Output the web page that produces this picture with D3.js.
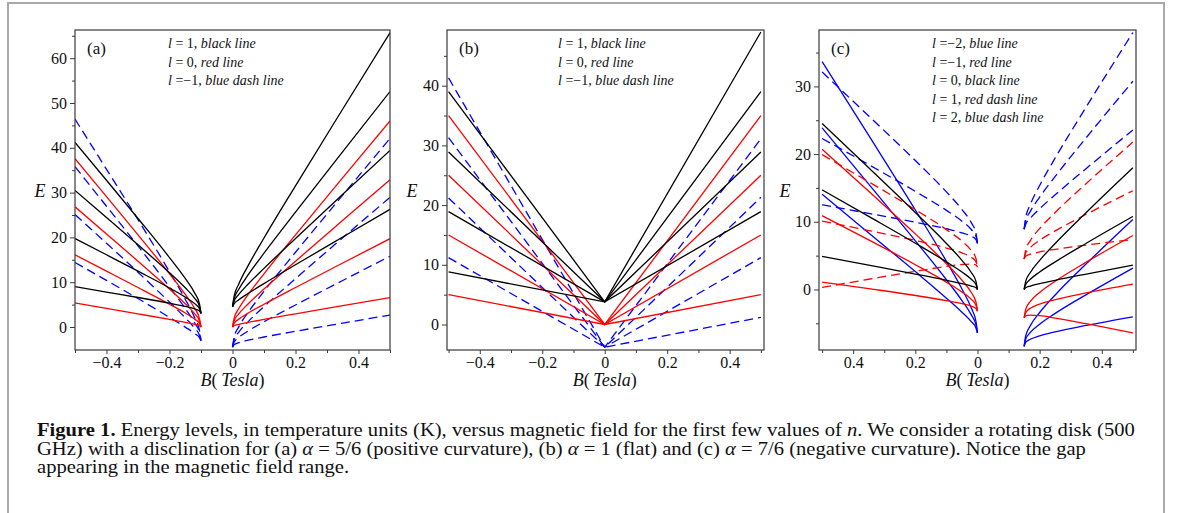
<!DOCTYPE html>
<html>
<head>
<meta charset="utf-8">
<script src="https://cdnjs.cloudflare.com/ajax/libs/d3/7.8.5/d3.min.js"></script>
<style>
  body { margin: 0; background: #fff; }
  svg { display: block; }
  svg text { font-family: "Liberation Serif", "Times New Roman", serif; }
</style>
</head>
<body>
<svg id="fig" width="1181" height="513"></svg>
<script>
// ---- panel (a): alpha = 5/6, gap between B = -0.1 and 0 ----
var aBRight = [0, 0.005, 0.02, 0.05, 0.1, 0.2, 0.35, 0.5];
var aBLeft = [-0.1, -0.105, -0.12, -0.15, -0.2, -0.3, -0.4, -0.5];
var aBlackR = [
  [4.5, 5.17, 6.08, 7.52, 9.69, 13.89, 20.09, 26.26],
  [4.5, 5.72, 7.26, 9.59, 13.09, 19.76, 29.61, 39.4],
  [4.5, 6.27, 8.44, 11.67, 16.48, 25.64, 39.14, 52.55],
  [4.5, 6.82, 9.61, 13.75, 19.87, 31.52, 48.66, 65.69]
];
var aBlackL = [
  [3.04, 3.57, 4.04, 4.6, 5.31, 6.59, 7.8, 9.01],
  [3.04, 4.12, 5.22, 6.67, 8.71, 12.46, 16.12, 19.74],
  [3.04, 4.67, 6.4, 8.75, 12.1, 18.34, 24.43, 30.47],
  [3.04, 5.22, 7.57, 10.83, 15.49, 24.22, 32.75, 41.2]
];
var aRedR = [
  [0, 0.27, 0.59, 1.04, 1.7, 2.94, 4.76, 6.57],
  [0, 0.82, 1.76, 3.12, 5.09, 8.82, 14.29, 19.72],
  [0, 1.37, 2.94, 5.2, 8.48, 14.69, 23.81, 32.86],
  [0, 1.92, 4.12, 7.27, 11.88, 20.57, 33.34, 46.01]
];
var aRedL = [
  [0, 0.27, 0.59, 1.04, 1.7, 2.94, 4.16, 5.37],
  [0, 0.82, 1.76, 3.12, 5.09, 8.82, 12.47, 16.1],
  [0, 1.37, 2.94, 5.2, 8.48, 14.69, 20.78, 26.83],
  [0, 1.92, 4.12, 7.27, 11.88, 20.57, 29.1, 37.56]
];
var aBlueR = [
  [-4.5, -3.97, -3.5, -2.94, -2.23, -0.95, 0.87, 2.66],
  [-4.5, -3.42, -2.32, -0.87, 1.17, 4.92, 10.39, 15.8],
  [-4.5, -2.87, -1.14, 1.21, 4.56, 10.8, 19.92, 28.95],
  [-4.5, -2.32, 0.03, 3.29, 7.95, 16.68, 29.44, 42.09]
];
var aBlueL = [
  [-3.04, -2.37, -1.46, -0.02, 2.15, 6.35, 10.4, 14.4],
  [-3.04, -1.82, -0.28, 2.05, 5.55, 12.22, 18.7, 25.1],
  [-3.04, -1.27, 0.9, 4.13, 8.94, 18.1, 26.95, 35.8],
  [-3.04, -0.72, 2.07, 6.21, 12.33, 23.98, 35.2, 46.4]
];

// ---- panel (b): alpha = 1, no gap ----
var bB = [-0.5, 0, 0.5];
var bBlack = [[8.8, 3.8, 18.9], [18.9, 3.8, 28.9], [28.9, 3.8, 39.0], [39.0, 3.8, 49.0]];
var bRed = [[5, 0, 5], [15, 0, 15], [25, 0, 25], [35, 0, 35]];
var bBlue = [[11.2, -3.8, 1.2], [21.2, -3.8, 11.2], [31.3, -3.8, 21.3], [41.3, -3.8, 31.1]];

// ---- panel (c): alpha = 7/6, gap between B = 0 and 0.15 ----
var cBRight = [0.15, 0.155, 0.17, 0.2, 0.25, 0.35, 0.5];
var cBLeft = [0, -0.005, -0.02, -0.05, -0.1, -0.2, -0.35, -0.5];
var cBlackR = [
  [0, 0.24, 0.5, 0.86, 1.36, 2.28, 3.6],
  [0, 0.72, 1.5, 2.58, 4.08, 6.83, 10.79],
  [0, 1.2, 2.51, 4.3, 6.8, 11.38, 17.99]
];
var cBlackL = [
  [0, 0.24, 0.5, 0.86, 1.36, 2.28, 3.6, 4.9],
  [0, 0.72, 1.5, 2.58, 4.08, 6.83, 10.79, 14.71],
  [0, 1.2, 2.51, 4.3, 6.8, 11.38, 17.99, 24.51]
];
var cRedR = [
  [-4.2, -3.89, -3.78, -3.87, -4.22, -5.06, -6.42],
  [-4.2, -3.41, -2.78, -2.15, -1.5, -0.51, 0.78],
  [-4.2, -2.93, -1.77, -0.43, 1.22, 4.04, 7.97]
];
var cRedL = [
  [-3.2, -2.81, -2.46, -2.08, -1.64, -0.89, 0.12, 1.1],
  [-3.2, -2.33, -1.46, -0.36, 1.08, 3.66, 7.32, 10.91],
  [-3.2, -1.85, -0.45, 1.36, 3.8, 8.21, 14.51, 20.72]
];
var cRedDashR = [
  [4.5, 4.89, 5.21, 5.56, 5.93, 6.56, 7.38],
  [4.5, 5.37, 6.21, 7.28, 8.65, 11.11, 14.58],
  [4.5, 5.85, 7.22, 9.0, 11.37, 15.66, 21.77]
];
var cRedDashL = [
  [3.3, 3.62, 3.75, 3.69, 3.4, 2.69, 1.51, 0.3],
  [3.3, 4.1, 4.75, 5.41, 6.12, 7.24, 8.71, 10.11],
  [3.3, 4.58, 5.76, 7.13, 8.84, 11.79, 15.9, 19.92]
];
var cBlueR = [
  [-8.4, -7.83, -7.35, -6.84, -6.25, -5.31, -4.04],
  [-8.4, -7.35, -6.35, -5.12, -3.53, -0.76, 3.16],
  [-8.4, -6.87, -5.34, -3.4, -0.81, 3.79, 10.35]
];
var cBlueL = [
  [-6.4, -5.68, -4.75, -3.36, -1.28, 2.64, 8.36, 14.06],
  [-6.4, -5.2, -3.75, -1.64, 1.44, 7.19, 15.56, 23.86],
  [-6.4, -4.72, -2.74, 0.08, 4.16, 11.74, 22.75, 33.67]
];
var cBlueDashR = [
  [8.9, 9.62, 10.54, 11.93, 13.99, 17.88, 23.56],
  [8.9, 10.1, 11.54, 13.65, 16.71, 22.43, 30.76],
  [8.9, 10.58, 12.55, 15.37, 19.43, 26.98, 37.95]
];
var cBlueDashL = [
  [6.8, 7.37, 7.86, 8.37, 8.97, 9.94, 11.24, 12.51],
  [6.8, 7.85, 8.86, 10.09, 11.69, 14.49, 18.44, 22.31],
  [6.8, 8.33, 9.87, 11.81, 14.41, 19.04, 25.63, 32.12]
];

// ticks and legends
var xMajor = [-0.4, -0.2, 0, 0.2, 0.4];
var xMinor = [-0.5, -0.3, -0.1, 0.1, 0.3, 0.5];
var aYMajor = [0, 10, 20, 30, 40, 50, 60];
var aYMinor = [5, 15, 25, 35, 45, 55, 65];
var bYMajor = [0, 10, 20, 30, 40];
var bYMinor = [5, 15, 25, 35, 45];
var cYMajor = [0, 10, 20, 30];
var cYMinor = [-5, 5, 15, 25, 35];
var abLegend = [["1", "black line"], ["0", "red line"], ["\u22121", "blue dash line"]];
var cLegend = [["\u22122", "blue line"], ["\u22121", "red line"], ["0", "black line"], ["1", "red dash line"], ["2", "blue dash line"]];

var RED = "#ff0000", BLUE = "#0000ff", BLACK = "#000000";
var SERIF = "'Liberation Serif', 'Times New Roman', serif";

var svg = d3.select("#fig");

// outer box
svg.append("rect")
  .attr("x", 8).attr("y", 3).attr("width", 1156).attr("height", 540)
  .attr("fill", "none").attr("stroke", "#a9a9a9").attr("stroke-width", 2);

function signed(d) {
  return d < 0 ? "\u2212" + Math.abs(d) : String(d);
}

var panels = [
  {
    name: "(a)", left: 75, right: 390, top: 30, bottom: 350,
    xDom: [-0.5, 0.5], yDom: [-5.13, 66.29],
    yMajor: aYMajor, yMinor: aYMinor, fmt: signed,
    eX: 40, legX: 168, legend: abLegend,
    groups: [
      { B: aBLeft, curves: aBlueL, color: BLUE, dash: true },
      { B: aBRight, curves: aBlueR, color: BLUE, dash: true },
      { B: aBLeft, curves: aRedL, color: RED },
      { B: aBRight, curves: aRedR, color: RED },
      { B: aBLeft, curves: aBlackL, color: BLACK },
      { B: aBRight, curves: aBlackR, color: BLACK }
    ]
  },
  {
    name: "(b)", left: 447, right: 764, top: 30, bottom: 350,
    xDom: [-0.505, 0.51], yDom: [-4.27, 49.33],
    yMajor: bYMajor, yMinor: bYMinor, fmt: signed,
    eX: 412, legX: 558, legend: abLegend, straight: true,
    groups: [
      { B: bB, curves: bBlue, color: BLUE, dash: true },
      { B: bB, curves: bRed, color: RED },
      { B: bB, curves: bBlack, color: BLACK }
    ]
  },
  {
    name: "(c)", left: 819, right: 1136, top: 30, bottom: 350,
    xDom: [-0.51, 0.51], yDom: [-8.94, 38.33],
    yMajor: cYMajor, yMinor: cYMinor, fmt: function (d) { return String(Math.abs(d)); },
    eX: 785, legX: 932, legend: cLegend,
    groups: [
      { B: cBLeft, curves: cBlueL, color: BLUE },
      { B: cBRight, curves: cBlueR, color: BLUE },
      { B: cBLeft, curves: cBlueDashL, color: BLUE, dash: true },
      { B: cBRight, curves: cBlueDashR, color: BLUE, dash: true },
      { B: cBLeft, curves: cRedL, color: RED },
      { B: cBRight, curves: cRedR, color: RED },
      { B: cBLeft, curves: cRedDashL, color: RED, dash: true },
      { B: cBRight, curves: cRedDashR, color: RED, dash: true },
      { B: cBLeft, curves: cBlackL, color: BLACK },
      { B: cBRight, curves: cBlackR, color: BLACK }
    ]
  }
];

panels.forEach(function (p, pi) {
  var x = d3.scaleLinear().domain(p.xDom).range([p.left, p.right]);
  var y = d3.scaleLinear().domain(p.yDom).range([p.bottom, p.top]);
  var g = svg.append("g");

  g.append("clipPath").attr("id", "clip" + pi)
    .append("rect")
    .attr("x", p.left).attr("y", p.top)
    .attr("width", p.right - p.left).attr("height", p.bottom - p.top);

  var line = d3.line()
    .x(function (d) { return x(d[0]); })
    .y(function (d) { return y(d[1]); })
    .curve(p.straight ? d3.curveLinear : d3.curveMonotoneX);

  var plot = g.append("g").attr("clip-path", "url(#clip" + pi + ")");
  p.groups.forEach(function (grp) {
    grp.curves.forEach(function (vals) {
      var pts = vals.map(function (e, i) { return [grp.B[i], e]; });
      pts.sort(function (m, n) { return m[0] - n[0]; });
      plot.append("path")
        .attr("d", line(pts))
        .attr("fill", "none")
        .attr("stroke", grp.color)
        .attr("stroke-width", 1.3)
        .attr("stroke-dasharray", grp.dash ? "9,5" : null);
    });
  });

  // frame
  g.append("rect")
    .attr("x", p.left).attr("y", p.top)
    .attr("width", p.right - p.left).attr("height", p.bottom - p.top)
    .attr("fill", "none").attr("stroke", "#3a3a3a").attr("stroke-width", 1.2);

  // x axis
  var xa = g.append("g").attr("transform", "translate(0," + p.bottom + ")")
    .call(d3.axisBottom(x).tickValues(xMajor).tickSize(4).tickPadding(3).tickFormat(p.fmt));
  var xm = g.append("g").attr("transform", "translate(0," + p.bottom + ")")
    .call(d3.axisBottom(x).tickValues(xMinor).tickSize(3).tickFormat(""));

  // y axis
  var ya = g.append("g").attr("transform", "translate(" + p.left + ",0)")
    .call(d3.axisLeft(y).tickValues(p.yMajor).tickSize(5).tickPadding(3).tickFormat(d3.format("d")));
  var ym = g.append("g").attr("transform", "translate(" + p.left + ",0)")
    .call(d3.axisLeft(y).tickValues(p.yMinor).tickSize(3).tickFormat(""));

  [xa, xm, ya, ym].forEach(function (ax) {
    ax.attr("font-family", SERIF).attr("font-size", 16);
    ax.select(".domain").remove();
    ax.selectAll(".tick line").attr("stroke", "#3a3a3a").attr("stroke-width", 1);
    ax.selectAll(".tick text").attr("fill", "#111").style("font-family", SERIF);
  });

  // axis titles
  var bl = g.append("text")
    .attr("x", x(0)).attr("y", 386)
    .attr("text-anchor", "middle").attr("font-size", 18).attr("fill", "#111");
  bl.append("tspan").attr("font-style", "italic").text("B");
  bl.append("tspan").text("(\u2009");
  bl.append("tspan").attr("font-style", "italic").text("Tesla");
  bl.append("tspan").text(")");

  g.append("text")
    .attr("x", p.eX).attr("y", 197)
    .attr("text-anchor", "middle").attr("font-size", 18)
    .attr("font-style", "italic").attr("fill", "#111")
    .text("E");

  g.append("text")
    .attr("x", p.left + 12).attr("y", 54)
    .attr("font-size", 17).attr("fill", "#111")
    .text(p.name);

  // legend text
  p.legend.forEach(function (item, i) {
    var t = g.append("text")
      .attr("x", p.legX).attr("y", 48 + i * 18.5)
      .attr("font-size", 14).attr("fill", "#111");
    t.append("tspan").attr("font-style", "italic").text("l");
    t.append("tspan").text(item[0].charAt(0) === "\u2212" ? " =" + item[0] + ", " : " = " + item[0] + ", ");
    t.append("tspan").attr("font-style", "italic").text(item[1]);
  });
});

// caption
var capLines = [
  [["Figure 1.", "b"], [" Energy levels, in temperature units (K), versus magnetic field for the first few values of "], ["n", "i"], [". We consider a rotating disk (500"]],
  [["GHz) with a disclination for (a) "], ["\u03b1", "i"], [" = 5/6 (positive curvature), (b) "], ["\u03b1", "i"], [" = 1 (flat) and (c) "], ["\u03b1", "i"], [" = 7/6 (negative curvature). Notice the gap"]],
  [["appearing in the magnetic field range."]]
];
var capNodes = capLines.map(function (parts, i) {
  var t = svg.append("text")
    .attr("x", 0).attr("y", 0)
    .attr("font-size", 18).attr("fill", "#111");
  parts.forEach(function (pt) {
    var s = t.append("tspan").text(pt[0]);
    if (pt[1] === "b") s.attr("font-weight", "bold");
    if (pt[1] === "i") s.attr("font-style", "italic");
  });
  return t;
});
var natural = capNodes[0].node().getComputedTextLength();
var sx = 1099 / natural;
capNodes.forEach(function (t, i) {
  t.attr("transform", "translate(37," + (436 + i * 18.5) + ") scale(" + sx + ",1)");
});
</script>
</body>
</html>
